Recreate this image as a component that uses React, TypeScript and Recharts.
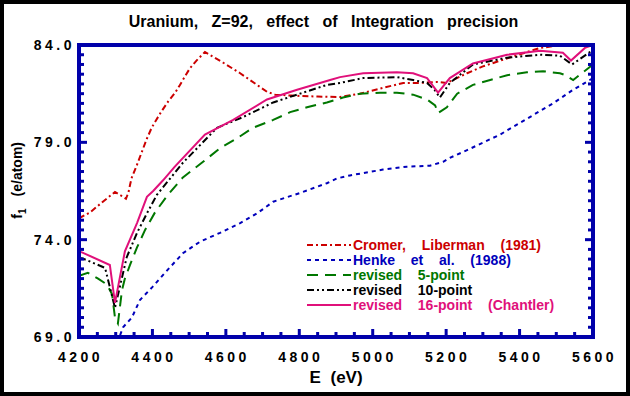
import React from 'react';
import { LineChart, Line, XAxis, YAxis, Label } from 'recharts';

const FRAME = '#0000AA';
const RED = '#CC0000';
const BLUE = '#0000BB';
const GREEN = '#007700';
const BLACK = '#000000';
const PINK = '#E0107A';

// Cromer & Liberman (1981)
const cromerE = [4200, 4230, 4265, 4298, 4320, 4328, 4335, 4340, 4344, 4357, 4371, 4384, 4398, 4412, 4425, 4443, 4462, 4475, 4489, 4502, 4520, 4543, 4592, 4639, 4685, 4712, 4734, 4780, 4850, 4911, 4965, 5028, 5083, 5121, 5175, 5202, 5257, 5300, 5380, 5456, 5497, 5540, 5600];
const cromerF = [75.1, 75.4, 75.95, 76.45, 76.2, 76.1, 76.45, 76.9, 77.2, 77.8, 78.5, 79.15, 79.75, 80.2, 80.6, 81.1, 81.55, 81.95, 82.4, 82.8, 83.2, 83.64, 83.1, 82.55, 81.95, 81.6, 81.45, 81.4, 81.35, 81.33, 81.5, 81.8, 82.05, 82.05, 82.1, 82.05, 82.55, 82.9, 83.4, 83.85, 83.95, 84.1, 84.3];

// Henke et al. (1988)
const henkeE = [4312, 4320, 4344, 4366, 4399, 4434, 4483, 4530, 4584, 4639, 4685, 4729, 4802, 4875, 4903, 4938, 5028, 5093, 5156, 5192, 5210, 5257, 5347, 5437, 5491, 5546, 5600];
const henkeF = [69.1, 69.5, 70.0, 70.9, 71.55, 72.3, 73.3, 73.9, 74.35, 74.85, 75.35, 75.95, 76.4, 76.9, 77.15, 77.3, 77.6, 77.75, 77.8, 78.0, 78.2, 78.6, 79.4, 80.4, 81.0, 81.7, 82.3];

// revised 5-point
const fiveE = [4200, 4224, 4252, 4276, 4290, 4298, 4306, 4317, 4325, 4339, 4358, 4380, 4407, 4442, 4483, 4538, 4584, 4630, 4674, 4729, 4775, 4821, 4875, 4919, 4965, 5020, 5066, 5110, 5148, 5170, 5178, 5202, 5230, 5273, 5320, 5366, 5420, 5464, 5510, 5525, 5546, 5573, 5600];
const fiveF = [72.15, 72.3, 72.0, 71.7, 71.2, 70.0, 69.7, 71.4, 72.0, 72.7, 73.6, 74.5, 75.4, 76.3, 77.2, 78.0, 78.7, 79.2, 79.75, 80.15, 80.55, 80.8, 81.05, 81.3, 81.5, 81.55, 81.55, 81.45, 81.2, 80.9, 80.5, 80.8, 81.5, 81.95, 82.2, 82.45, 82.6, 82.65, 82.55, 82.45, 82.2, 82.6, 83.0];

// revised 10-point
const tenE = [4200, 4208, 4271, 4298, 4330, 4358, 4385, 4412, 4440, 4483, 4576, 4647, 4729, 4802, 4875, 4911, 4974, 5066, 5110, 5148, 5168, 5183, 5210, 5273, 5366, 5456, 5510, 5543, 5600];
const tenF = [73.05, 73.05, 72.55, 70.5, 73.1, 74.35, 75.35, 76.3, 76.95, 77.95, 79.75, 80.3, 81.05, 81.5, 81.95, 82.05, 82.3, 82.35, 82.2, 82.05, 81.7, 81.3, 82.05, 83.0, 83.35, 83.5, 83.45, 83.0, 83.75];

// revised 16-point (Chantler)
const sixteenE = [4200, 4208, 4284, 4298, 4325, 4358, 4385, 4402, 4429, 4461, 4543, 4620, 4712, 4794, 4884, 4911, 4974, 5066, 5110, 5148, 5178, 5210, 5273, 5366, 5456, 5518, 5540, 5578, 5600];
const sixteenF = [73.4, 73.35, 72.7, 70.75, 73.4, 74.85, 76.2, 76.5, 77.05, 77.75, 79.4, 80.15, 81.2, 81.7, 82.2, 82.35, 82.55, 82.6, 82.55, 82.3, 81.55, 82.3, 83.05, 83.5, 83.7, 83.6, 83.2, 83.85, 84.0];

const xMajorTicks = [4200, 4400, 4600, 4800, 5000, 5200, 5400, 5600];
const xMinorTicks = Array.from({ length: 29 }, (_, i) => 4200 + i * 50);
const yMajorTicks = [69, 74, 79, 84];
const yMinorTicks = Array.from({ length: 31 }, (_, i) => 69 + i * 0.5);

const toPoints = (es: number[], fs: number[]) => es.map((e, i) => ({ e, f: fs[i] }));

const series = [
  { name: 'Cromer,  Liberman  (1981)', data: toPoints(cromerE, cromerF), color: RED, dash: '6 3 2 3' },
  { name: 'Henke  et  al.  (1988)', data: toPoints(henkeE, henkeF), color: BLUE, dash: '4 4' },
  { name: 'revised  5-point', data: toPoints(fiveE, fiveF), color: GREEN, dash: '11 7' },
  { name: 'revised  10-point', data: toPoints(tenE, tenF), color: BLACK, dash: '7 3 2 3 2 3' },
  { name: 'revised  16-point  (Chantler)', data: toPoints(sixteenE, sixteenF), color: PINK, dash: undefined },
];

const FONT = '"Liberation Sans", Arial, Helvetica, sans-serif';
const frame = { stroke: FRAME, strokeWidth: 4, strokeLinecap: 'square' as const };
const MAJOR_LEN = 8;
const MINOR_LEN = 5;

// ticks point into the plot; every major tick is longer
const makeTick = (side: 'bottom' | 'top' | 'left' | 'right') => (p: any) => {
  const v = p.payload.value;
  const isMajor = side === 'bottom' || side === 'top' ? xMajorTicks.includes(v) : yMajorTicks.includes(v);
  const len = isMajor ? MAJOR_LEN : MINOR_LEN;
  const dx = side === 'left' ? len : side === 'right' ? -len : 0;
  const dy = side === 'top' ? len : side === 'bottom' ? -len : 0;
  return (
    <g>
      <line x1={p.x} y1={p.y} x2={p.x + dx} y2={p.y + dy} stroke={FRAME} strokeWidth={3} />
      {isMajor && side === 'bottom' && (
        <text x={p.x + 1.5} y={p.y + 25} textAnchor="middle" fontSize={14} fontWeight="bold" fontFamily={FONT} fill="#000" letterSpacing={3.5}>
          {v}
        </text>
      )}
      {isMajor && side === 'left' && (
        <text x={p.x - 4} y={p.y} dy="0.355em" textAnchor="end" fontSize={14} fontWeight="bold" fontFamily={FONT} fill="#000" letterSpacing={3.5}>
          {v.toFixed(1)}
        </text>
      )}
    </g>
  );
};

// axis label drawn vertically, reading upward
const renderYLabel = (props: any) => {
  const vb = props.viewBox || { x: 78, y: 45, height: 292 };
  const x = 22;
  const y = vb.y + vb.height / 2 - 49;
  return (
    <text x={x} y={y} transform={`rotate(-90 ${x} ${y})`} textAnchor="end" fontSize={14} fontWeight="bold" fontFamily={FONT} fill="#000">
      f<tspan dy={4} fontSize={10}>1</tspan>
      <tspan dy={-4} dx={12}>(e/atom)</tspan>
    </text>
  );
};

const App: React.FC = () => {
  return (
    <div style={{ position: 'absolute', left: 0, top: 0, width: 630, height: 396, background: '#fff', boxShadow: 'inset 0 0 0 4px #000', fontFamily: FONT }}>
      <div style={{ position: 'absolute', left: 0, width: 647, top: 13, textAlign: 'center', fontSize: 16, fontWeight: 'bold', wordSpacing: 9, color: '#000', lineHeight: '18px' }}>
        Uranium, Z=92, effect of Integration precision
      </div>
      <LineChart width={630} height={396} margin={{ top: 44, right: 36, bottom: 58, left: 78 }}>
        <XAxis xAxisId="b" dataKey="e" type="number" orientation="bottom" height={1} domain={[4200, 5600]} allowDataOverflow
          ticks={xMinorTicks} interval={0} tickSize={0} tickMargin={0} tickLine={false} tick={makeTick('bottom')} axisLine={frame}>
          <Label value="E (eV)" position="bottom" offset={33} style={{ fontSize: 17, fontWeight: 'bold', fontFamily: FONT, fill: '#000', wordSpacing: 5 }} />
        </XAxis>
        <XAxis xAxisId="t" type="number" orientation="top" height={1} domain={[4200, 5600]} allowDataOverflow
          ticks={xMinorTicks} interval={0} tickSize={0} tickMargin={0} tickLine={false} tick={makeTick('top')} axisLine={frame} />
        <YAxis yAxisId="l" type="number" orientation="left" width={1} domain={[69, 84]} allowDataOverflow
          ticks={yMinorTicks} interval={0} tickSize={0} tickMargin={0} tickLine={false} tick={makeTick('left')} axisLine={frame}>
          <Label content={renderYLabel} />
        </YAxis>
        <YAxis yAxisId="r" type="number" orientation="right" width={1} domain={[69, 84]} allowDataOverflow
          ticks={yMinorTicks} interval={0} tickSize={0} tickMargin={0} tickLine={false} tick={makeTick('right')} axisLine={frame} />
        {series.map(s => (
          <Line key={s.name} xAxisId="b" yAxisId="l" data={s.data} dataKey="f" type="linear" stroke={s.color}
            strokeWidth={2} strokeDasharray={s.dash} dot={false} activeDot={false} isAnimationActive={false} />
        ))}
      </LineChart>
      <div style={{ position: 'absolute', left: 307, top: 237, fontSize: 14, fontWeight: 'bold', wordSpacing: 4 }}>
        {series.map(s => (
          <div key={s.name} style={{ display: 'flex', alignItems: 'center', height: 15, color: s.color, whiteSpace: 'pre' }}>
            <svg width={44} height={6} style={{ marginRight: 2 }}>
              <line x1={0} y1={3} x2={44} y2={3} stroke={s.color} strokeWidth={2} strokeDasharray={s.dash} />
            </svg>
            <span>{s.name}</span>
          </div>
        ))}
      </div>
    </div>
  );
};

export default App;
